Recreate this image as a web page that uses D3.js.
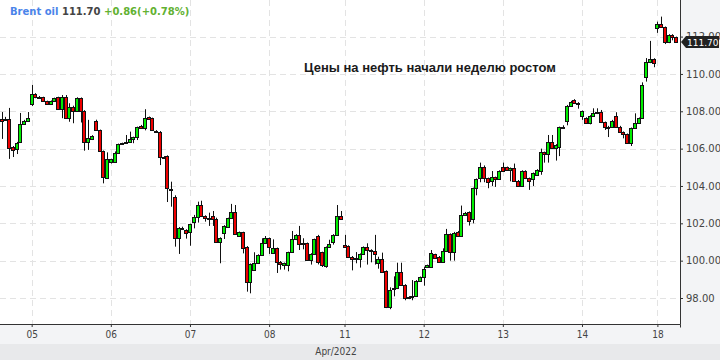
<!DOCTYPE html>
<html>
<head>
<meta charset="utf-8">
<script src="https://cdn.jsdelivr.net/npm/d3@7"></script>
<style>
html, body { margin: 0; padding: 0; background: #f3f4f6; }
svg { display: block; }
</style>
</head>
<body>
<svg width="720" height="360"></svg>
<script>
// hourly Brent candles, 4 Apr (tail) .. 18 Apr 2022
const dayLabels = ["05", "06", "07", "08", "11", "12", "13", "14", "18"];
const dayStarts = [8, 29, 50, 71, 91, 112, 133, 154, 174];
const yTicks = [98, 100, 102, 104, 106, 108, 110, 112];
const lastPrice = 111.70;

const open = [
  107.59,107.59,107.59,106.07,105.97,106.34,107.30,107.46,108.38,108.91,
  108.78,108.75,108.54,108.39,108.54,108.75,108.11,108.75,107.63,108.25,
  108.03,108.70,108.02,106.34,106.50,107.48,107.00,105.87,104.41,105.27,
  105.30,105.78,106.23,106.29,106.36,106.50,106.61,107.23,107.09,107.68,
  107.63,106.96,106.91,105.54,105.61,103.84,103.43,101.20,101.77,101.64,
  101.52,102.09,102.32,102.98,102.39,102.30,102.39,102.22,101.02,101.50,
  101.82,102.27,102.62,101.32,101.52,100.75,98.87,99.50,99.86,100.30,
  100.93,101.20,100.40,100.67,99.95,99.75,99.77,100.45,101.14,101.38,
  100.96,100.93,100.04,100.36,101.32,100.45,99.73,100.72,101.00,101.38,
  102.39,100.86,100.79,100.21,100.13,100.07,100.36,100.75,100.57,100.50,
  99.86,100.07,99.45,97.50,98.48,98.52,99.39,98.70,98.07,98.04,
  98.11,98.93,99.11,99.68,99.68,100.34,100.21,99.95,100.52,101.43,
  100.45,101.55,101.34,102.45,102.61,102.21,103.91,104.41,105.00,104.41,
  104.27,104.46,104.36,105.03,105.00,104.86,104.95,104.28,104.00,104.80,
  104.41,104.36,104.59,104.82,105.80,105.71,106.37,106.02,106.10,107.14,
  107.50,108.30,108.61,108.46,107.73,107.64,107.38,107.75,107.89,107.98,
  107.41,107.18,107.16,107.75,107.18,106.88,106.77,106.32,107.09,107.36,
  107.63,109.82,110.62,110.80,112.45,112.68,112.50,111.73,112.09,111.96
];
const high = [
  107.96,107.70,108.18,106.14,106.36,107.91,107.54,107.96,109.41,108.97,
  108.82,108.78,108.57,108.58,108.73,108.78,108.87,108.87,108.43,108.30,
  108.75,108.74,108.06,107.54,106.72,107.55,107.02,105.90,105.80,105.46,
  105.85,106.27,106.32,106.73,106.91,106.64,107.18,107.27,108.11,107.72,
  107.66,106.99,106.94,105.60,105.64,104.23,103.50,101.80,101.82,101.68,
  101.98,102.45,103.16,103.21,102.43,102.57,102.66,102.30,101.25,101.90,
  102.30,103.04,102.98,101.56,101.55,100.78,99.85,100.45,100.34,101.20,
  101.32,101.24,101.14,100.70,99.98,99.90,100.48,101.59,101.42,101.86,
  101.20,100.97,100.40,101.18,101.38,100.48,100.76,101.12,101.42,102.98,
  102.66,101.38,100.82,100.25,100.46,100.39,100.76,100.93,100.61,101.38,
  100.21,100.43,99.48,98.57,99.16,99.89,99.89,98.74,98.10,98.96,
  98.96,99.15,99.68,99.79,100.57,100.37,100.25,100.66,101.70,101.46,
  101.54,101.59,102.95,102.61,102.64,103.91,104.40,105.25,105.10,104.45,
  104.80,104.50,104.84,105.25,105.04,104.99,105.20,104.32,104.84,104.84,
  104.45,104.72,104.90,106.00,105.84,106.73,106.73,106.24,107.18,107.25,
  108.34,108.56,108.65,108.49,108.04,107.68,107.79,108.16,108.16,108.07,
  107.45,107.22,107.54,107.95,107.22,106.92,106.81,107.13,107.89,107.67,
  109.55,110.85,111.77,110.84,112.80,113.07,112.54,112.13,112.13,112.00
];
const low = [
  106.52,107.48,105.45,105.55,105.71,106.30,107.27,107.43,108.28,108.70,
  108.70,108.50,108.35,108.36,108.50,108.07,107.63,107.60,107.44,107.36,
  107.98,107.40,105.89,105.93,106.46,106.95,105.89,104.14,104.38,105.20,
  105.27,105.74,106.20,106.26,106.33,106.29,106.46,107.09,106.98,107.55,
  106.96,106.84,105.12,105.50,103.14,102.89,100.75,100.36,101.64,101.18,
  100.80,101.73,102.04,102.38,102.09,101.86,101.86,100.98,99.86,101.16,
  101.78,102.23,101.38,101.28,100.39,98.34,98.25,99.46,99.82,100.26,
  100.89,100.36,100.36,99.34,99.52,99.52,99.43,100.41,101.10,100.57,
  100.61,100.00,99.79,100.32,99.80,99.66,99.62,100.68,100.86,101.34,
  102.18,100.68,100.14,99.48,99.86,99.63,100.32,99.79,99.91,99.79,
  99.57,99.38,97.46,97.40,98.09,98.48,98.66,97.88,97.94,97.88,
  98.07,98.89,98.66,99.64,99.64,100.09,99.91,99.91,100.48,100.00,
  100.00,101.30,101.30,102.41,101.88,102.00,103.50,104.20,104.20,103.88,
  104.00,103.95,104.32,104.78,104.82,104.25,104.24,103.96,103.96,104.37,
  103.79,104.00,104.55,104.60,105.25,105.25,105.98,105.36,105.60,107.10,
  107.25,108.26,108.42,108.14,107.54,107.34,107.30,107.71,107.85,107.37,
  107.00,106.62,107.12,107.14,106.87,106.55,106.29,106.14,107.05,107.32,
  107.59,109.59,110.58,110.36,112.20,112.46,111.60,111.65,111.80,111.69
];
const close = [
  107.48,107.54,106.04,105.91,106.29,107.32,107.48,107.64,108.91,108.75,
  108.75,108.54,108.39,108.54,108.70,108.11,108.75,107.63,108.25,108.03,
  108.70,108.02,106.37,106.55,106.68,107.00,105.89,104.47,105.43,105.43,
  105.78,106.23,106.29,106.36,106.50,106.61,107.14,107.12,107.63,107.59,
  107.00,106.88,105.54,105.57,103.88,103.80,101.20,101.77,101.68,101.47,
  101.95,102.32,102.98,102.41,102.29,102.30,102.22,101.02,101.20,101.86,
  102.27,102.62,101.41,101.52,100.66,98.87,99.81,99.86,100.30,100.96,
  101.20,100.72,100.67,99.91,99.82,99.86,100.45,101.14,101.38,100.89,
  100.89,100.04,100.36,101.14,99.95,99.77,100.72,100.90,101.38,102.39,
  102.21,100.72,100.18,100.09,100.07,100.36,100.72,100.57,100.50,100.34,
  100.07,99.41,97.50,98.43,98.52,99.39,98.70,97.98,97.98,98.11,
  98.93,99.11,99.54,99.75,100.39,100.13,99.95,100.52,101.43,100.45,
  101.50,101.34,102.45,102.57,102.14,103.88,104.36,105.00,104.41,104.20,
  104.50,104.37,104.80,104.82,104.86,104.95,104.28,104.00,104.80,104.41,
  104.27,104.68,104.86,105.80,105.71,106.37,106.02,106.20,107.14,107.17,
  108.30,108.52,108.46,108.38,108.00,107.38,107.75,107.89,107.98,107.41,
  107.18,107.16,107.50,107.18,106.91,106.77,106.32,107.09,107.39,107.63,
  109.41,110.62,110.80,110.59,112.68,112.50,111.70,112.09,111.96,111.73
];

const svg = d3.select("svg");
const width = 680, height = 324;

const x = d3.scaleLinear().domain([-0.4, 180]).range([0, width]);
const y = d3.scaleLinear().domain([98, 112]).range([298, 36.6]);

// backgrounds
svg.append("rect").attr("width", 720).attr("height", 360).attr("fill", "#f3f4f6");
svg.append("rect").attr("y", 344).attr("width", 720).attr("height", 16).attr("fill", "#e8e9eb");
svg.append("rect").attr("width", width).attr("height", height).attr("fill", "#fff");

// grid
const grid = svg.append("g").attr("stroke", "#e3e3e3").attr("stroke-dasharray", "6,4");
grid.selectAll(".hg").data(yTicks).enter().append("line")
    .attr("x1", 0).attr("x2", width)
    .attr("y1", d => Math.round(y(d)) + 0.5).attr("y2", d => Math.round(y(d)) + 0.5);
grid.selectAll(".vg").data(dayStarts).enter().append("line")
    .attr("y1", 0).attr("y2", height)
    .attr("x1", d => Math.round(x(d)) + 0.5).attr("x2", d => Math.round(x(d)) + 0.5);

// candles
const data = open.map((o, i) => ({ i: i, o: o, h: high[i], l: low[i], c: close[i] }));
const candles = svg.append("g");
candles.selectAll(".wick").data(data).enter().append("line")
    .attr("x1", d => Math.round(x(d.i)) + 0.5).attr("x2", d => Math.round(x(d.i)) + 0.5)
    .attr("y1", d => y(d.h)).attr("y2", d => y(d.l))
    .attr("stroke", "#111").attr("stroke-width", 1);
candles.selectAll(".body").data(data).enter().append("rect")
    .attr("x", d => Math.round(x(d.i)) - 1.5)
    .attr("width", 3)
    .attr("y", d => Math.round(y(Math.max(d.o, d.c))) + 0.5)
    .attr("height", d => Math.max(1, Math.round(y(Math.min(d.o, d.c))) - Math.round(y(Math.max(d.o, d.c)))))
    .attr("fill", d => d.c >= d.o ? "#00ee00" : "#ee0000")
    .attr("stroke", "#111").attr("stroke-width", 1);

// axes
const yAxis = svg.append("g").attr("transform", `translate(${width},0)`)
    .call(d3.axisRight(y).tickValues(yTicks).tickFormat(d3.format(".2f")).tickSize(3).tickPadding(3));
yAxis.select(".domain").remove();
yAxis.selectAll("line").attr("stroke", "#333");
yAxis.selectAll("text").attr("fill", "#444").style("font", "10px 'DejaVu Sans', sans-serif");

const xAxis = svg.append("g").attr("transform", `translate(0,${height})`)
    .call(d3.axisBottom(x).tickValues(dayStarts).tickFormat((d, i) => dayLabels[i]).tickSize(3).tickPadding(4));
xAxis.select(".domain").remove();
xAxis.selectAll("line").attr("stroke", "#333");
xAxis.selectAll("text").attr("fill", "#444")
    .style("font", "10px 'DejaVu Sans Condensed', 'DejaVu Sans', sans-serif").style("font-stretch", "condensed");

svg.append("path")
    .attr("d", `M0,${height + 0.5}H${width + 0.5}V0M${width + 0.5},${height + 0.5}v3`)
    .attr("fill", "none").attr("stroke", "#333");

svg.append("text").attr("x", 336).attr("y", 355).attr("text-anchor", "middle")
    .attr("fill", "#444").style("font", "10px 'DejaVu Sans Condensed', 'DejaVu Sans', sans-serif")
    .style("font-stretch", "condensed").text("Apr/2022");

// last price marker
const yl = Math.round(y(lastPrice));
svg.append("path")
    .attr("d", `M681,${yl}L686,${yl - 6}H719V${yl + 6}H686Z`)
    .attr("fill", "#222");
svg.append("text").attr("x", 687).attr("y", yl + 3.5).attr("fill", "#fff")
    .style("font", "9px 'DejaVu Sans', sans-serif").text(d3.format(".2f")(lastPrice));

// header
const head = svg.append("text").attr("x", 10).attr("y", 15)
    .style("font", "bold 10px 'DejaVu Sans', sans-serif");
head.append("tspan").attr("fill", "#4a84ea").text("Brent oil ");
head.append("tspan").attr("fill", "#444").text("111.70 ");
head.append("tspan").attr("fill", "#62b132").text("+0.86(+0.78%)");

// annotation
svg.append("text").attr("x", 430).attr("y", 72).attr("text-anchor", "middle")
    .attr("fill", "#1a1a1a").style("font", "bold 13px 'Liberation Sans', Arial, sans-serif")
    .text("Цены на нефть начали неделю ростом");
</script>
</body>
</html>
